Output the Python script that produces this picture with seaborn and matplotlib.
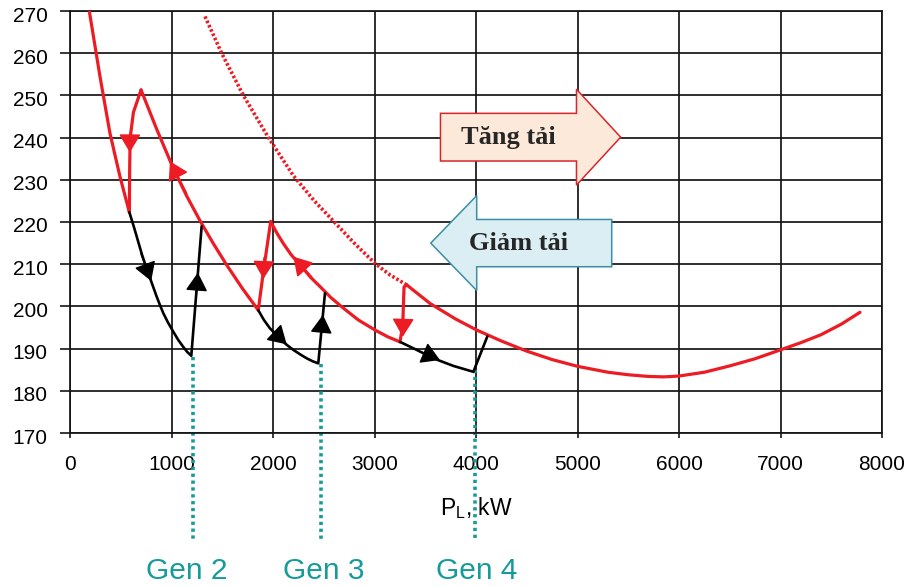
import matplotlib
matplotlib.use("Agg")
import matplotlib.pyplot as plt
import matplotlib.transforms as mtransforms
import seaborn as sns
import pandas as pd
from matplotlib.patches import FancyArrow

# ---------------- data ----------------
x_ticks = [0, 1000, 2000, 3000, 4000, 5000, 6000, 7000, 8000]
y_ticks = [170, 180, 190, 200, 210, 220, 230, 240, 250, 260, 270]

# red curves (specific fuel consumption envelope, g/kWh)
red1_x = [190, 296, 394, 493, 585]
red1_y = [270, 254.4, 241.0, 230.7, 222.3]
red_drop1_x = [585, 588, 593, 625, 700]
red_drop1_y = [222.3, 233.0, 240.0, 246.0, 251.3]
red2_x = [700, 854, 1018, 1149, 1281, 1412, 1544, 1700, 1855]
red2_y = [251.3, 242.0, 232.7, 226.2, 220.3, 214.9, 209.8, 204.2, 199.1]
red_drop2_x = [1855, 1905, 1977]
red_drop2_y = [199.1, 208.2, 220.1]
red3_x = [1977, 2040, 2102, 2180, 2283, 2370, 2463, 2570, 2677, 2840, 3005, 3130, 3251]
red3_y = [220.1, 217.3, 214.9, 212.2, 209.4, 206.9, 204.7, 202.1, 199.9, 196.8, 194.4, 192.8, 191.6]
red_drop3_x = [3251, 3278, 3291, 3317]
red_drop3_y = [191.6, 195.5, 204.6, 205.1]
red4_x = [3317, 3547, 3800, 4007, 4250, 4500, 4750, 5000, 5300, 5500, 5700, 5850,
          6000, 6250, 6500, 6750, 7000, 7200, 7400, 7600, 7783]
red4_y = [205.1, 200.7, 197.0, 194.4, 191.8, 189.4, 187.4, 185.8, 184.4, 183.8, 183.4, 183.3,
          183.5, 184.4, 185.9, 187.6, 189.7, 191.4, 193.3, 195.8, 198.6]
red4_dot_x = [1330, 1494, 1708, 1955, 2200, 2400, 2600, 2800, 3005, 3150, 3317]
red4_dot_y = [268.7, 260.0, 250.0, 240.0, 231.0, 225.2, 220.1, 215.0, 210.2, 207.5, 205.1]

# black curves (load increase path)
black1_x = [585, 630, 670, 710, 755, 805, 854, 885, 919, 965, 1018, 1065, 1116, 1155, 1195, 1297]
black1_y = [222.3, 218.8, 215.5, 212.2, 209.0, 205.6, 202.3, 200.4, 198.4, 196.2, 194.0,
            192.1, 190.4, 189.2, 188.3, 219.0]
black2_x = [1855, 1910, 1970, 2069, 2130, 2200, 2270, 2332, 2390, 2446, 2512]
black2_y = [199.1, 196.8, 194.8, 192.4, 191.0, 189.7, 188.6, 187.7, 187.0, 186.5, 203.1]
black3_x = [3251, 3415, 3580, 3777, 3974, 4112]
black3_y = [191.6, 189.7, 187.7, 185.9, 184.5, 192.9]

# arrow heads on the curves: tip and a point behind it on the curve
red_arrow_tip_x = [589, 985, 1905, 2200, 3278]
red_arrow_tip_y = [236.5, 234.4, 206.5, 211.8, 192.8]
red_arrow_from_x = [590, 1149, 1912, 2380, 3284]
red_arrow_from_y = [241.0, 226.8, 211.5, 207.0, 198.0]
black_arrow_tip_x = [800, 1260, 2135, 2492, 3645]
black_arrow_tip_y = [206.0, 208.0, 191.0, 198.0, 187.3]
black_arrow_from_x = [700, 1240, 1990, 2478, 3470]
black_arrow_from_y = [212.5, 201.5, 194.3, 194.5, 189.1]

# generator switch-in points
gen_labels = ["Gen 2", "Gen 3", "Gen 4"]
gen_x = [1207, 2473, 3990]
gen_label_x = [1150, 2500, 4010]
gen_top = [188.1, 186.3, 185.0]

# block arrows
block_labels = ["Tăng tải", "Giảm tải"]

# ---------------- style ----------------
sns.set_theme(style="whitegrid")
plt.rcParams["font.family"] = ["Liberation Sans", "DejaVu Sans"]

RED = "#ed1c24"
BLACK = "#000000"
TEAL = "#159c9a"

fig = plt.figure(figsize=(9.10, 5.87), dpi=100)
fig.patch.set_facecolor("white")
ax = fig.add_axes([70 / 910, 1 - 433 / 587, 812 / 910, 422 / 587])
ax.set_facecolor("white")


def draw(xs, ys, color, lw, z=3):
    df = pd.DataFrame({"x": xs, "y": ys})
    sns.lineplot(data=df, x="x", y="y", sort=False, estimator=None,
                 color=color, lw=lw, ax=ax, zorder=z)
    line = ax.lines[-1]
    line.set_solid_joinstyle("round")
    line.set_solid_capstyle("round")
    return line


for xs, ys in [(red1_x, red1_y), (red_drop1_x, red_drop1_y), (red2_x, red2_y),
               (red_drop2_x, red_drop2_y), (red3_x, red3_y),
               (red_drop3_x, red_drop3_y), (red4_x, red4_y)]:
    draw(xs, ys, RED, 2.3)

dot = draw(red4_dot_x, red4_dot_y, RED, 2.6)
dot.set_dashes([0.7, 0.6])
dot.set_dash_capstyle("butt")

for xs, ys in [(black1_x, black1_y), (black2_x, black2_y), (black3_x, black3_y)]:
    draw(xs, ys, BLACK, 1.9, z=4)


def heads(tx, ty, fx, fy, color):
    for a, b, c, d in zip(tx, ty, fx, fy):
        ax.annotate("", xy=(a, b), xytext=(c, d),
                    arrowprops=dict(arrowstyle="-|>,head_length=0.8,head_width=0.48",
                                    mutation_scale=14, color=color, lw=1.2,
                                    shrinkA=0, shrinkB=0),
                    zorder=6)


heads(red_arrow_tip_x, red_arrow_tip_y, red_arrow_from_x, red_arrow_from_y, RED)
heads(black_arrow_tip_x, black_arrow_tip_y, black_arrow_from_x, black_arrow_from_y, BLACK)

# generator lines and labels
for name, gx, lx, gt in zip(gen_labels, gen_x, gen_label_x, gen_top):
    ln, = ax.plot([gx, gx], [gt, 145], color=TEAL, lw=2.6, zorder=2, clip_on=False)
    ln.set_dashes([0.9, 1.0])
    ax.text(lx, 137.3, name, color=TEAL, fontsize=21.5, ha="center", va="center",
            family=["Liberation Sans", "DejaVu Sans"], clip_on=False)

# block arrows
inc = FancyArrow(3650, 240.1, 1775, 0, width=11.3, head_width=22.7, head_length=435,
                 length_includes_head=True, facecolor="#fde9d9", edgecolor="#d7262b",
                 lw=1.1, zorder=7)
dec = FancyArrow(5337, 215.0, -1783, 0, width=11.2, head_width=22.5, head_length=453,
                 length_includes_head=True, facecolor="#dbeef4", edgecolor="#3a8ea5",
                 lw=1.1, zorder=7)
ax.add_patch(inc)
ax.add_patch(dec)
ax.text(4320, 240.0, block_labels[0], fontsize=19, fontweight="bold", ha="center",
        va="center", family=["Liberation Serif", "DejaVu Serif"], zorder=8)
ax.text(4421, 215.0, block_labels[1], fontsize=19, fontweight="bold", ha="center",
        va="center", family=["Liberation Serif", "DejaVu Serif"], zorder=8)

# axes
ax.set_xlim(0, 8000)
ax.set_ylim(170, 270)
ax.set_xticks(x_ticks)
ax.set_xticklabels([str(v) for v in x_ticks])
ax.set_yticks(y_ticks)
ax.set_yticklabels([str(v) for v in y_ticks])
ax.grid(True, color="#151515", lw=1.25)
ax.set_axisbelow(True)
for s in ax.spines.values():
    s.set_visible(True)
    s.set_color("#151515")
    s.set_linewidth(1.25)
ax.tick_params(axis="y", which="major", direction="out", length=7.2, width=1.2,
               color="#151515", pad=9.0, labelsize=15, labelcolor="black", left=True)
ax.tick_params(axis="x", which="major", direction="out", length=3.6, width=1.2,
               color="#151515", pad=12.0, labelsize=15, labelcolor="black", bottom=True)
shift = mtransforms.ScaledTranslation(0, -3 / 100, fig.dpi_scale_trans)
for lab in ax.get_yticklabels():
    lab.set_transform(lab.get_transform() + shift)
ax.set_xlabel("")
ax.set_ylabel("")
ax.text(0.5, -0.178, r"P$_\mathregular{L}$, kW", transform=ax.transAxes,
        fontsize=16.5, ha="center", va="center", color="black")

fig.savefig("out.png", dpi=100, facecolor="white")
